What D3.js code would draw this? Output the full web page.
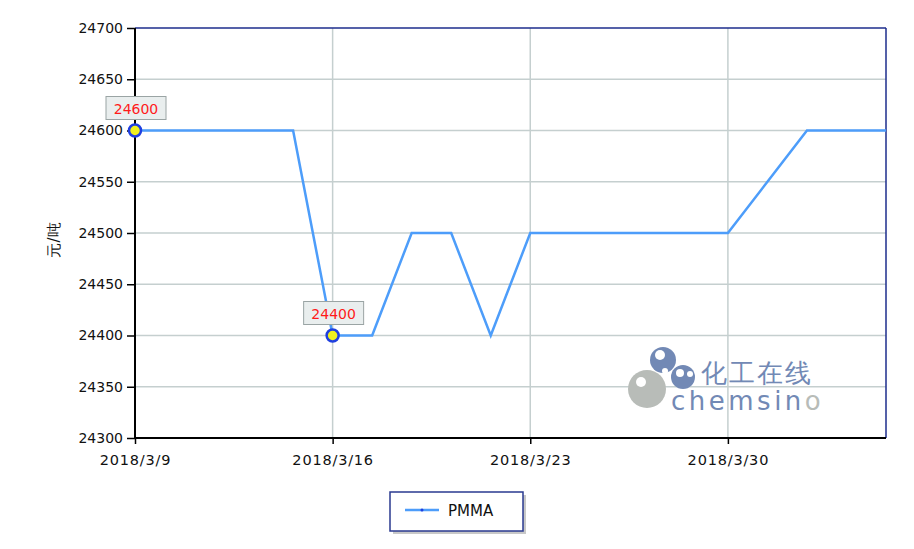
<!DOCTYPE html>
<html><head><meta charset="utf-8">
<script src="https://cdn.jsdelivr.net/npm/d3@7"></script>
<style>body{margin:0;background:#fff;} svg{display:block;} text{font-family:"DejaVu Sans",sans-serif;}</style>
</head><body>
<svg id="c" width="914" height="549"></svg>
<script>
const dates = ["2018/3/9","2018/3/12","2018/3/13","2018/3/14","2018/3/15","2018/3/16","2018/3/19","2018/3/20","2018/3/21","2018/3/22","2018/3/23","2018/3/26","2018/3/27","2018/3/28","2018/3/29","2018/3/30","2018/4/2","2018/4/3","2018/4/4","2018/4/5"];
const pmma = [24600,24600,24600,24600,24600,24400,24400,24500,24500,24400,24500,24500,24500,24500,24500,24500,24550,24600,24600,24600];
const xTicks = ["2018/3/9","2018/3/16","2018/3/23","2018/3/30"];
const yTicks = [24300,24350,24400,24450,24500,24550,24600,24650,24700];
const labeled = ["2018/3/9","2018/3/16"];
const seriesName = "PMMA";
const yTitle = "元/吨";

const L=135,R=886,T=28,B=438;
const svg=d3.select("#c");
const x=d3.scalePoint().domain(dates).range([L,R]);
const y=d3.scaleLinear().domain([24300,24700]).range([B,T]);

// gridlines
const g=svg.append("g");
g.selectAll(".hg").data(yTicks.filter(v=>v>24300&&v<24700)).enter().append("line")
 .attr("x1",L).attr("x2",R).attr("y1",d=>y(d)).attr("y2",d=>y(d)).attr("stroke","#c5cfcf").attr("stroke-width",1.5);
g.selectAll(".vg").data(xTicks.slice(1)).enter().append("line")
 .attr("x1",d=>x(d)).attr("x2",d=>x(d)).attr("y1",T).attr("y2",B).attr("stroke","#c5cfcf").attr("stroke-width",1.5);

// top and right border
svg.append("line").attr("x1",L).attr("x2",R).attr("y1",T).attr("y2",T).attr("stroke","#1c2d8c").attr("stroke-width",1.5);
svg.append("line").attr("x1",R).attr("x2",R).attr("y1",T).attr("y2",B).attr("stroke","#1c2d8c").attr("stroke-width",1.5);

// axes
const ya=svg.append("g").attr("transform",`translate(${L},0)`)
 .call(d3.axisLeft(y).tickValues(yTicks).tickSize(8).tickPadding(4).tickFormat(d3.format("d")));
const xa=svg.append("g").attr("transform",`translate(0,${B})`)
 .call(d3.axisBottom(x).tickValues(xTicks).tickSize(6).tickPadding(11));
[ya,xa].forEach(a=>{
 a.selectAll("path").attr("stroke","#000").attr("stroke-width",2);
 a.selectAll("line").attr("stroke","#000").attr("stroke-width",1.5);
 a.selectAll("text").attr("font-size",14).attr("fill","#111").attr("font-family","DejaVu Sans, sans-serif");
});
xa.selectAll("text").attr("font-size",14.5).attr("letter-spacing",0.8);
ya.select("path").attr("d",`M0,${T}V${B}`);
xa.select("path").attr("d",`M${L},0H${R}`);

svg.append("text").attr("transform","translate(59,240) rotate(-90)").attr("text-anchor","middle")
 .attr("font-size",15).attr("fill","#111").text(yTitle);

// watermark
const wm=svg.append("g");
wm.append("circle").attr("cx",647).attr("cy",389).attr("r",19).attr("fill","#b8bcb8");
wm.append("circle").attr("cx",641).attr("cy",382).attr("r",5).attr("fill","#fff");
wm.append("circle").attr("cx",663).attr("cy",360).attr("r",13).attr("fill","#7289b5");
wm.append("circle").attr("cx",660).attr("cy",355).attr("r",5).attr("fill","#fff");
wm.append("circle").attr("cx",665).attr("cy",371).attr("r",3).attr("fill","#fff");
wm.append("circle").attr("cx",683).attr("cy",377).attr("r",12).attr("fill","#7289b5");
wm.append("circle").attr("cx",680).attr("cy",373).attr("r",4).attr("fill","#fff");
wm.append("circle").attr("cx",690).attr("cy",374).attr("r",3).attr("fill","#fff");
wm.append("text").attr("x",701).attr("y",382).attr("font-size",26).attr("letter-spacing",2).attr("fill","#7289b5")
 .attr("font-family","Noto Sans CJK SC, sans-serif").text("化工在线");
const ct=wm.append("text").attr("x",671).attr("y",410).attr("font-size",26).attr("letter-spacing",3.5)
 .attr("font-family","Liberation Sans, Arial, sans-serif");
ct.append("tspan").attr("fill","#7289b5").text("chemsin");
ct.append("tspan").attr("fill","#b8bcb8").text("o");

// line
const line=d3.line().x((d,i)=>x(dates[i])).y(d=>y(d));
svg.append("path").datum(pmma).attr("d",line).attr("fill","none").attr("stroke","#4d9dfa").attr("stroke-width",2.5);

// labeled markers
labeled.forEach(dt=>{
 const i=dates.indexOf(dt), v=pmma[i], cx=x(dt), cy=y(v);
 svg.append("rect").attr("x",cx-29).attr("y",cy-34).attr("width",60).attr("height",23)
  .attr("fill","#e9eeee").attr("stroke","#9aa4a4").attr("stroke-width",1);
 svg.append("text").attr("x",cx+1).attr("y",cy-17).attr("text-anchor","middle").attr("font-size",14)
  .attr("fill","#ff1a1a").text(String(v));
 svg.append("circle").attr("cx",cx).attr("cy",cy).attr("r",6).attr("fill","#f0f020").attr("stroke","#1f3fe0").attr("stroke-width",2.5);
});

// legend
const lg=svg.append("g");
lg.append("rect").attr("x",393).attr("y",495).attr("width",133).attr("height",39).attr("fill","#c8c8c8");
lg.append("rect").attr("x",390).attr("y",492).attr("width",133).attr("height",39).attr("fill","#fff").attr("stroke","#2a3a90").attr("stroke-width",1.5);
lg.append("line").attr("x1",405).attr("x2",439).attr("y1",510).attr("y2",510).attr("stroke","#4d9dfa").attr("stroke-width",2.5);
lg.append("circle").attr("cx",422).attr("cy",510).attr("r",1.5).attr("fill","#1f3fe0");
lg.append("text").attr("x",448).attr("y",516).attr("font-size",15).attr("fill","#111").text(seriesName);
</script>
</body></html>
